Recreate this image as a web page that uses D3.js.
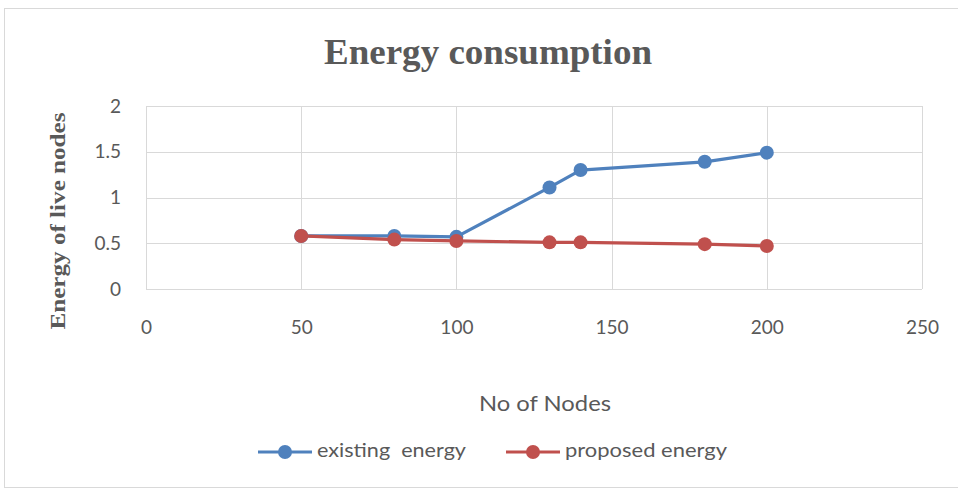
<!DOCTYPE html>
<html><head><meta charset="utf-8">
<script src="https://cdn.jsdelivr.net/npm/d3@7"></script>
<style>body{margin:0;background:#fff}</style>
</head><body>
<script>
const nodes = [50, 80, 100, 130, 140, 180, 200];
const existingEnergy = [0.58, 0.58, 0.57, 1.11, 1.30, 1.39, 1.49];
const proposedEnergy = [0.58, 0.54, 0.525, 0.51, 0.51, 0.49, 0.47];
const xTicks = [0, 50, 100, 150, 200, 250];
const yTicks = [0, 0.5, 1, 1.5, 2];
const seriesNames = ["existing  energy", "proposed energy"];
const colors = ["#4f81bd", "#c0504d"];

const W = 958, H = 489;
const svg = d3.select("body").append("svg").attr("width", W).attr("height", H);
svg.append("rect").attr("x", 4.5).attr("y", 8.5).attr("width", W).attr("height", 479)
  .attr("fill", "#fff").attr("stroke", "#d9d9d9");

const x = d3.scaleLinear().domain([0, 250]).range([146, 922]);
const y = d3.scaleLinear().domain([0, 2]).range([289, 106]);

const grid = svg.append("g");
grid.selectAll("line.h").data(yTicks).join("line")
  .attr("x1", x(0)).attr("x2", x(250)).attr("y1", d => Math.round(y(d)) + 0.5).attr("y2", d => Math.round(y(d)) + 0.5)
  .attr("stroke", "#d9d9d9").attr("stroke-width", 1);
grid.selectAll("line.v").data(xTicks).join("line")
  .attr("y1", y(0)).attr("y2", y(2)).attr("x1", d => Math.round(x(d)) + 0.5).attr("x2", d => Math.round(x(d)) + 0.5)
  .attr("stroke", "#d9d9d9").attr("stroke-width", 1);

const tickFont = "Lato, 'Open Sans', sans-serif";
const yAxis = d3.axisLeft(y).tickValues(yTicks).tickSize(0).tickPadding(25).tickFormat(d => d);
const ya = svg.append("g").attr("transform", `translate(${x(0)},0)`).call(yAxis);
ya.select(".domain").remove();
ya.selectAll("text").attr("font-family", tickFont).attr("font-size", 19).attr("fill", "#595959");

const xAxis = d3.axisBottom(x).tickValues(xTicks).tickSize(0).tickPadding(32).tickFormat(d => d);
const xa = svg.append("g").attr("transform", `translate(0,${y(0)})`).call(xAxis);
xa.select(".domain").remove();
xa.selectAll("text").attr("font-family", tickFont).attr("font-size", 19).attr("fill", "#595959");

const line = d3.line().x(d => x(d[0])).y(d => y(d[1]));
const series = [existingEnergy, proposedEnergy];
series.forEach((vals, i) => {
  const pts = nodes.map((n, j) => [n, vals[j]]);
  svg.append("path").datum(pts).attr("d", line).attr("fill", "none")
    .attr("stroke", colors[i]).attr("stroke-width", 3.2).attr("stroke-linejoin", "round");
  svg.append("g").selectAll("circle").data(pts).join("circle")
    .attr("cx", d => x(d[0])).attr("cy", d => y(d[1])).attr("r", 7).attr("fill", colors[i]);
});

svg.append("text").attr("x", 488).attr("y", 64).attr("text-anchor", "middle")
  .attr("font-family", "'Liberation Serif', 'Times New Roman', serif").attr("font-weight", "bold")
  .attr("font-size", 35).attr("fill", "#595959")
  .attr("textLength", 328).attr("lengthAdjust", "spacingAndGlyphs").text("Energy consumption");

svg.append("text").attr("transform", "translate(65,221) rotate(-90)").attr("text-anchor", "middle")
  .attr("font-family", "'Liberation Serif', 'Times New Roman', serif").attr("font-weight", "bold")
  .attr("font-size", 22).attr("fill", "#595959")
  .attr("textLength", 217).attr("lengthAdjust", "spacingAndGlyphs").text("Energy of live nodes");

svg.append("text").attr("x", 545).attr("y", 411).attr("text-anchor", "middle")
  .attr("font-family", tickFont).attr("font-size", 22).attr("fill", "#595959")
  .attr("textLength", 132).attr("lengthAdjust", "spacingAndGlyphs").text("No of Nodes");

const legX = [258, 506];
const legLen = [149, 162];
seriesNames.forEach((name, i) => {
  const g = svg.append("g").attr("transform", `translate(${legX[i]},452)`);
  g.append("line").attr("x1", 0).attr("x2", 54).attr("y1", 0).attr("y2", 0)
    .attr("stroke", colors[i]).attr("stroke-width", 3.2);
  g.append("circle").attr("cx", 27).attr("cy", 0).attr("r", 7).attr("fill", colors[i]);
  g.append("text").attr("x", 59).attr("y", 5).attr("font-family", tickFont)
    .attr("font-size", 20).attr("fill", "#595959").style("white-space", "pre")
    .attr("textLength", legLen[i]).attr("lengthAdjust", "spacingAndGlyphs").text(name);
});
</script>
</body></html>
